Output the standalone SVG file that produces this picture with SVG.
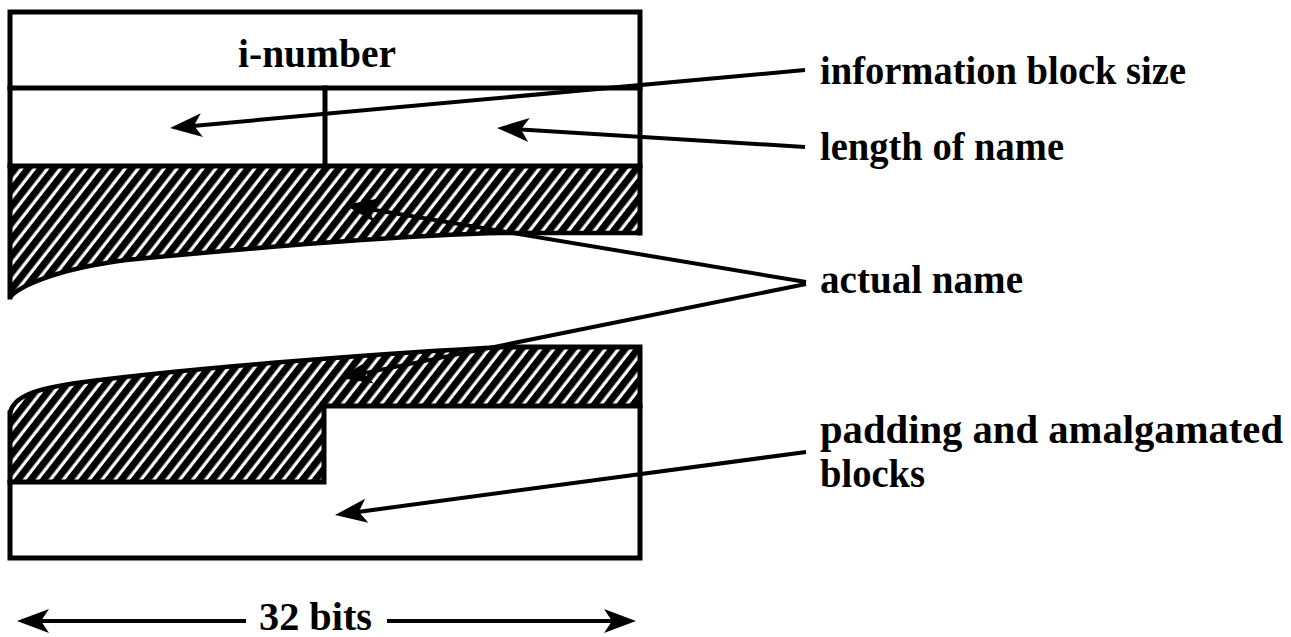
<svg xmlns="http://www.w3.org/2000/svg" width="1291" height="637" viewBox="0 0 1291 637">
<defs>
<style>
.b{fill:none;stroke:#000;stroke-width:5;stroke-linecap:square;stroke-linejoin:miter}
.e{fill:none;stroke:#000;stroke-width:4.5}
.c{fill:none;stroke:#000;stroke-width:4;marker-end:url(#ah)}
.t{font-family:"Liberation Serif","Times New Roman",serif;font-weight:bold;font-size:40px;fill:#000}
</style>
<pattern id="hatch" patternUnits="userSpaceOnUse" width="10.2" height="20" patternTransform="rotate(38)">
<rect width="10.2" height="20" fill="#fff"/>
<rect width="7" height="20" fill="#000"/>
</pattern>
<marker id="ah" viewBox="-34 -14 36 28" refX="-12" refY="0" markerWidth="36" markerHeight="28" markerUnits="userSpaceOnUse" orient="auto">
<path d="M0,0 L-32,-12 L-24,0 L-32,12 Z" fill="#000"/>
</marker>
</defs>
<rect width="1291" height="637" fill="#fff"/>

<g id="inode-header">
<path d="M10,166 H640 V233 H500 C380,236 230,250 126,260 C50,270 18,288 10,297 Z" fill="url(#hatch)"/>
<path class="b" d="M10,297 V12 H640 V233"/>
<path class="b" d="M10,88 H640"/>
<path class="b" d="M10,166 H640"/>
<path class="b" d="M325,88 V166"/>
<path class="e" d="M640,233 H500 C380,236 230,250 126,260 C50,270 18,288 10,297"/>
<text class="t" x="238" y="67" textLength="158" lengthAdjust="spacingAndGlyphs">i-number</text>
</g>

<g id="name-tail-block">
<path d="M10,413 C13,398 30,389 84,382 C200,367 400,352 507,347 H640 V406 H324 V482 H10 Z" fill="url(#hatch)"/>
<path class="e" d="M10,413 C13,398 30,389 84,382 C200,367 400,352 507,347"/>
<path class="b" d="M507,347 H640 V558 H10 V413"/>
<path class="b" d="M324,406 H640"/>
<path class="b" d="M324,406 V482 H10"/>
</g>

<g id="label-info-size">
<text class="t" x="820" y="84" textLength="366" lengthAdjust="spacingAndGlyphs">information block size</text>
</g>
<g id="label-name-length">
<text class="t" x="820" y="160" textLength="244" lengthAdjust="spacingAndGlyphs">length of name</text>
</g>
<g id="label-actual-name">
<text class="t" x="820" y="293" textLength="203" lengthAdjust="spacingAndGlyphs">actual name</text>
</g>
<g id="label-padding">
<text class="t" x="820" y="443" textLength="463" lengthAdjust="spacingAndGlyphs">padding and amalgamated</text>
<text class="t" x="820" y="487" textLength="105" lengthAdjust="spacingAndGlyphs">blocks</text>
</g>
<g id="label-width">
<text class="t" x="259" y="630" textLength="113" lengthAdjust="spacingAndGlyphs">32 bits</text>
</g>

<g id="connectors">
<line class="c" x1="805" y1="70" x2="182" y2="126.9"/>
<line class="c" x1="805" y1="147" x2="509" y2="128.7"/>
<line class="c" x1="806" y1="282" x2="356.8" y2="207"/>
<line class="c" x1="806" y1="284" x2="351.8" y2="375.6"/>
<line class="c" x1="806" y1="452" x2="346.9" y2="513.4"/>
<line class="c" x1="246" y1="621" x2="29" y2="621"/>
<line class="c" x1="387" y1="621" x2="624" y2="621"/>
</g>
</svg>
